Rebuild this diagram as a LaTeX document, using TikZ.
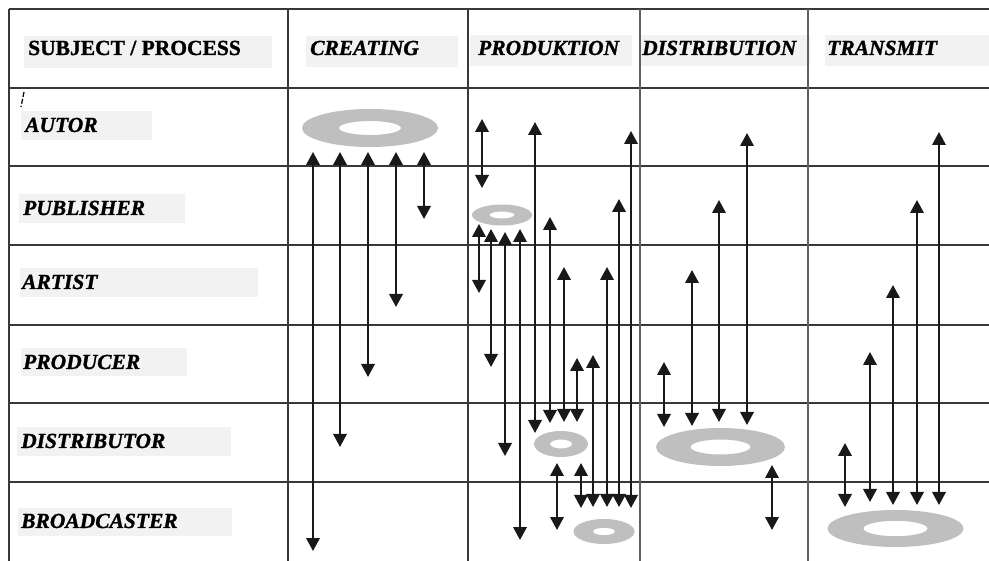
\documentclass[tikz,border=0pt]{standalone}
\usepackage{fontspec}
\setmainfont{Liberation Serif}[BoldFeatures={FakeBold=1.2}, BoldItalicFeatures={FakeBold=1.2}]
\usetikzlibrary{arrows.meta}
\begin{document}
\begin{tikzpicture}[x=1pt,y=-1pt,
  gridline/.style={draw=black!78, line width=1.3pt},
  vsep/.style={draw=black!62, line width=1.8pt},
  boxfill/.style={fill=black!5},
  lbl/.style={inner sep=0pt, anchor=base west, font=\fontsize{21.5}{24}\selectfont\bfseries\itshape},
  hlbl/.style={inner sep=0pt, anchor=base west, font=\fontsize{21.5}{24}\selectfont\bfseries},
  ring/.style={fill=black!25, even odd rule},
  dbl/.style={{Triangle[width=13.5pt,length=13pt]}-{Triangle[width=13.5pt,length=13pt]}, line width=2pt, draw=black!90, fill=black},
]
\useasboundingbox (0,0) rectangle (989,561);
\fill[white] (0,0) rectangle (989,561);
% label boxes
\fill[boxfill] (24,36) rectangle (272,68);
\fill[boxfill] (306,36) rectangle (458,67);
\fill[boxfill] (470,35) rectangle (632,66);
\fill[boxfill] (640,35) rectangle (810,66);
\fill[boxfill] (825,35) rectangle (989,66);
\fill[boxfill] (21,111) rectangle (152,140);
\fill[boxfill] (19,194) rectangle (185,223);
\fill[boxfill] (20,268) rectangle (258,297);
\fill[boxfill] (21,348) rectangle (187,376);
\fill[boxfill] (17,427) rectangle (231,456);
\fill[boxfill] (18,508) rectangle (232,536);
% grid
\foreach \y in {9,88,166,245,325,403,482}
  \draw[gridline] (9,\y) -- (989,\y);
\foreach \x in {9,288,468}
  \draw[gridline] (\x,9) -- (\x,561);
\foreach \x in {640,808}
  \draw[vsep] (\x,9) -- (\x,561);
\draw[black, line width=1.2pt, dash pattern=on 5pt off 2pt] (24,92) -- (21,107);
% header texts
\node[hlbl] (hsubj) at (28,55) {SUBJECT / PROCESS};
\node[lbl] (hcreat) at (310,55) {CREATING};
\node[lbl] (hprod) at (478,55) {PRODUKTION};
\node[lbl] (hdist) at (642,55) {DISTRIBUTION};
\node[lbl] (htrans) at (827,55) {TRANSMIT};
% row texts
\node[lbl] (autor) at (25,132) {AUTOR};
\node[lbl] (publ) at (23,215) {PUBLISHER};
\node[lbl] (artist) at (22,289) {ARTIST};
\node[lbl] (producer) at (23,369) {PRODUCER};
\node[lbl] (distr) at (21,448) {DISTRIBUTOR};
\node[lbl] (broad) at (21,528) {BROADCASTER};
% rings
\fill[ring] (370,128) ellipse [x radius=68pt, y radius=19pt] (370,128) ellipse [x radius=31pt, y radius=7pt];
\fill[ring] (502,215) ellipse [x radius=30pt, y radius=10.5pt] (502,215) ellipse [x radius=12.5pt, y radius=3.5pt];
\fill[ring] (561,444) ellipse [x radius=27pt, y radius=13pt] (561,444) ellipse [x radius=11pt, y radius=4.5pt];
\fill[ring] (604,531.5) ellipse [x radius=30.5pt, y radius=12.5pt] (604,531.5) ellipse [x radius=11pt, y radius=3.7pt];
\fill[ring] (720.5,447) ellipse [x radius=64.5pt, y radius=19pt] (720.5,447) ellipse [x radius=30pt, y radius=7.5pt];
\fill[ring] (895.5,528.5) ellipse [x radius=68pt, y radius=18.5pt] (895.5,528.5) ellipse [x radius=32pt, y radius=7.7pt];
% arrows
\foreach \x/\a/\b in {
  313/152/551, 340/152/447, 368/152/377, 396/152/307, 424/152/219,
  482/119/188, 535/122/433, 631/131/508, 479/224/293, 491/229/367,
  505/232/456, 520/229/540, 550/217/423, 564/267/422, 577/358/422,
  593/355/507, 607/267/507, 619/199/507, 581/463/508, 557/463/530,
  692/270/426, 719/200/422, 747/133/425, 664/362/427, 772/465/530,
  893/285/505, 917/200/505, 939/132/505, 870/352/502, 845/443/507}
  \draw[dbl] (\x,\a) -- (\x,\b);
\end{tikzpicture}
\end{document}
